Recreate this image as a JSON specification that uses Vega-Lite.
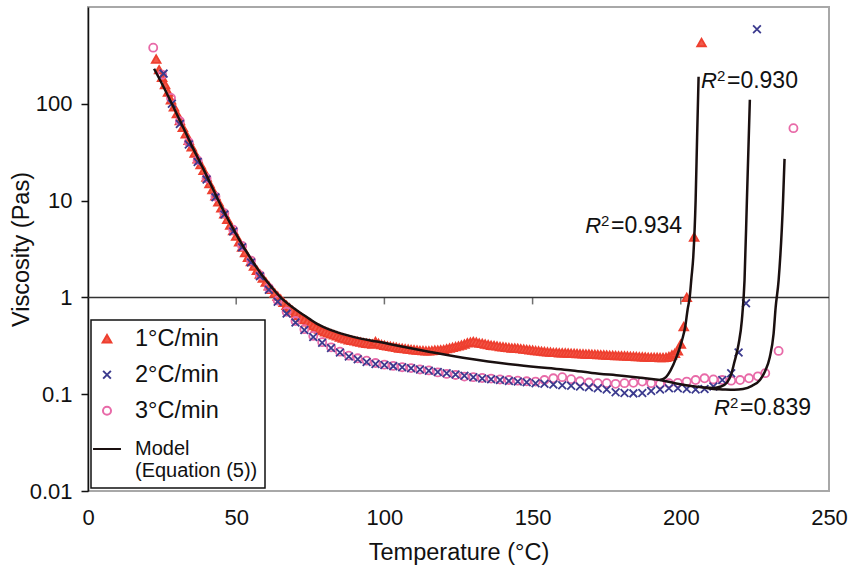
{
  "$schema": "https://vega.github.io/schema/vega-lite/v6.json",
  "width": 741,
  "height": 484,
  "autosize": {"type": "none"},
  "padding": {"left": 88, "top": 7, "right": 27, "bottom": 78},
  "background": "white",
  "config": {
    "font": "Liberation Sans",
    "view": {"stroke": "#a8a8a8", "strokeWidth": 2},
    "axis": {"grid": false, "labelFontSize": 22, "titleFontSize": 23.5, "titleFontWeight": "normal", "labelColor": "#111", "titleColor": "#111"},
    "legend": {"orient": "bottom-left", "offset": 3, "padding": 7, "strokeColor": "#111", "strokeWidth": 1.5, "fillColor": "white", "labelFontSize": 23.5, "labelOffset": 13, "symbolOffset": -6, "rowPadding": 11, "symbolStrokeWidth": 2, "labelLimit": 400, "labelColor": "#111"}
  },
  "datasets": {
    "pts": [
      {"s":"1°C/min","t":23,"v":290},{"s":"1°C/min","t":24,"v":225},{"s":"1°C/min","t":25,"v":188},{"s":"1°C/min","t":26,"v":158},{"s":"1°C/min","t":27,"v":132},{"s":"1°C/min","t":28,"v":110},{"s":"1°C/min","t":29,"v":93},{"s":"1°C/min","t":30,"v":79},{"s":"1°C/min","t":31,"v":67},{"s":"1°C/min","t":32,"v":57},{"s":"1°C/min","t":33,"v":49},{"s":"1°C/min","t":34,"v":42},{"s":"1°C/min","t":35,"v":36},{"s":"1°C/min","t":36,"v":31},{"s":"1°C/min","t":37,"v":27},{"s":"1°C/min","t":38,"v":23.5},{"s":"1°C/min","t":39,"v":20.5},{"s":"1°C/min","t":40,"v":17.5},{"s":"1°C/min","t":41,"v":15},{"s":"1°C/min","t":42,"v":13},{"s":"1°C/min","t":43,"v":11.2},{"s":"1°C/min","t":44,"v":9.7},{"s":"1°C/min","t":45,"v":8.4},{"s":"1°C/min","t":46,"v":7.3},{"s":"1°C/min","t":47,"v":6.4},{"s":"1°C/min","t":48,"v":5.6},{"s":"1°C/min","t":49,"v":4.9},{"s":"1°C/min","t":50,"v":4.3},{"s":"1°C/min","t":51,"v":3.75},{"s":"1°C/min","t":52,"v":3.3},{"s":"1°C/min","t":53,"v":2.9},{"s":"1°C/min","t":54,"v":2.6},{"s":"1°C/min","t":55,"v":2.35},{"s":"1°C/min","t":56,"v":2.1},{"s":"1°C/min","t":57,"v":1.9},{"s":"1°C/min","t":58,"v":1.74},{"s":"1°C/min","t":59,"v":1.58},{"s":"1°C/min","t":60,"v":1.44},{"s":"1°C/min","t":61,"v":1.32},{"s":"1°C/min","t":62,"v":1.21},{"s":"1°C/min","t":63,"v":1.11},{"s":"1°C/min","t":64,"v":1.03},{"s":"1°C/min","t":65,"v":0.96},{"s":"1°C/min","t":66,"v":0.89},{"s":"1°C/min","t":67,"v":0.83},{"s":"1°C/min","t":68,"v":0.78},{"s":"1°C/min","t":69,"v":0.73},{"s":"1°C/min","t":70,"v":0.69},{"s":"1°C/min","t":71,"v":0.65},{"s":"1°C/min","t":72,"v":0.62},{"s":"1°C/min","t":73,"v":0.59},{"s":"1°C/min","t":74,"v":0.56},{"s":"1°C/min","t":75,"v":0.535},{"s":"1°C/min","t":76,"v":0.51},{"s":"1°C/min","t":77,"v":0.49},{"s":"1°C/min","t":78,"v":0.47},{"s":"1°C/min","t":79,"v":0.455},{"s":"1°C/min","t":80,"v":0.44},{"s":"1°C/min","t":81,"v":0.43},{"s":"1°C/min","t":82,"v":0.42},{"s":"1°C/min","t":83,"v":0.41},{"s":"1°C/min","t":84,"v":0.4},{"s":"1°C/min","t":85,"v":0.39},{"s":"1°C/min","t":86,"v":0.38},{"s":"1°C/min","t":87,"v":0.372},{"s":"1°C/min","t":88,"v":0.365},{"s":"1°C/min","t":89,"v":0.36},{"s":"1°C/min","t":90,"v":0.355},{"s":"1°C/min","t":91,"v":0.35},{"s":"1°C/min","t":92,"v":0.345},{"s":"1°C/min","t":93,"v":0.34},{"s":"1°C/min","t":94,"v":0.336},{"s":"1°C/min","t":95,"v":0.333},{"s":"1°C/min","t":96,"v":0.33},{"s":"1°C/min","t":97,"v":0.35},{"s":"1°C/min","t":98,"v":0.335},{"s":"1°C/min","t":99,"v":0.325},{"s":"1°C/min","t":100,"v":0.32},{"s":"1°C/min","t":101,"v":0.315},{"s":"1°C/min","t":102,"v":0.312},{"s":"1°C/min","t":103,"v":0.308},{"s":"1°C/min","t":104,"v":0.305},{"s":"1°C/min","t":105,"v":0.3},{"s":"1°C/min","t":106,"v":0.298},{"s":"1°C/min","t":107,"v":0.295},{"s":"1°C/min","t":108,"v":0.292},{"s":"1°C/min","t":109,"v":0.29},{"s":"1°C/min","t":110,"v":0.288},{"s":"1°C/min","t":111,"v":0.285},{"s":"1°C/min","t":112,"v":0.283},{"s":"1°C/min","t":113,"v":0.282},{"s":"1°C/min","t":114,"v":0.28},{"s":"1°C/min","t":115,"v":0.28},{"s":"1°C/min","t":116,"v":0.282},{"s":"1°C/min","t":117,"v":0.285},{"s":"1°C/min","t":118,"v":0.285},{"s":"1°C/min","t":119,"v":0.288},{"s":"1°C/min","t":120,"v":0.29},{"s":"1°C/min","t":121,"v":0.295},{"s":"1°C/min","t":122,"v":0.3},{"s":"1°C/min","t":123,"v":0.305},{"s":"1°C/min","t":124,"v":0.31},{"s":"1°C/min","t":125,"v":0.315},{"s":"1°C/min","t":126,"v":0.322},{"s":"1°C/min","t":127,"v":0.33},{"s":"1°C/min","t":128,"v":0.34},{"s":"1°C/min","t":129,"v":0.345},{"s":"1°C/min","t":130,"v":0.35},{"s":"1°C/min","t":131,"v":0.345},{"s":"1°C/min","t":132,"v":0.338},{"s":"1°C/min","t":133,"v":0.335},{"s":"1°C/min","t":134,"v":0.33},{"s":"1°C/min","t":135,"v":0.325},{"s":"1°C/min","t":136,"v":0.32},{"s":"1°C/min","t":137,"v":0.318},{"s":"1°C/min","t":138,"v":0.315},{"s":"1°C/min","t":139,"v":0.31},{"s":"1°C/min","t":140,"v":0.308},{"s":"1°C/min","t":141,"v":0.305},{"s":"1°C/min","t":142,"v":0.303},{"s":"1°C/min","t":143,"v":0.3},{"s":"1°C/min","t":144,"v":0.3},{"s":"1°C/min","t":145,"v":0.298},{"s":"1°C/min","t":146,"v":0.295},{"s":"1°C/min","t":147,"v":0.292},{"s":"1°C/min","t":148,"v":0.29},{"s":"1°C/min","t":149,"v":0.288},{"s":"1°C/min","t":150,"v":0.285},{"s":"1°C/min","t":151,"v":0.282},{"s":"1°C/min","t":152,"v":0.28},{"s":"1°C/min","t":153,"v":0.278},{"s":"1°C/min","t":154,"v":0.276},{"s":"1°C/min","t":155,"v":0.274},{"s":"1°C/min","t":156,"v":0.272},{"s":"1°C/min","t":157,"v":0.27},{"s":"1°C/min","t":158,"v":0.27},{"s":"1°C/min","t":159,"v":0.268},{"s":"1°C/min","t":160,"v":0.268},{"s":"1°C/min","t":161,"v":0.267},{"s":"1°C/min","t":162,"v":0.266},{"s":"1°C/min","t":163,"v":0.265},{"s":"1°C/min","t":164,"v":0.264},{"s":"1°C/min","t":165,"v":0.263},{"s":"1°C/min","t":166,"v":0.262},{"s":"1°C/min","t":167,"v":0.261},{"s":"1°C/min","t":168,"v":0.26},{"s":"1°C/min","t":169,"v":0.26},{"s":"1°C/min","t":170,"v":0.259},{"s":"1°C/min","t":171,"v":0.258},{"s":"1°C/min","t":172,"v":0.257},{"s":"1°C/min","t":173,"v":0.256},{"s":"1°C/min","t":174,"v":0.255},{"s":"1°C/min","t":175,"v":0.254},{"s":"1°C/min","t":176,"v":0.253},{"s":"1°C/min","t":177,"v":0.252},{"s":"1°C/min","t":178,"v":0.251},{"s":"1°C/min","t":179,"v":0.25},{"s":"1°C/min","t":180,"v":0.25},{"s":"1°C/min","t":181,"v":0.249},{"s":"1°C/min","t":182,"v":0.248},{"s":"1°C/min","t":183,"v":0.247},{"s":"1°C/min","t":184,"v":0.246},{"s":"1°C/min","t":185,"v":0.245},{"s":"1°C/min","t":186,"v":0.244},{"s":"1°C/min","t":187,"v":0.243},{"s":"1°C/min","t":188,"v":0.242},{"s":"1°C/min","t":189,"v":0.241},{"s":"1°C/min","t":190,"v":0.24},{"s":"1°C/min","t":191,"v":0.24},{"s":"1°C/min","t":192,"v":0.24},{"s":"1°C/min","t":193,"v":0.239},{"s":"1°C/min","t":194,"v":0.239},{"s":"1°C/min","t":195,"v":0.24},{"s":"1°C/min","t":196,"v":0.245},{"s":"1°C/min","t":197,"v":0.255},{"s":"1°C/min","t":198,"v":0.265},{"s":"1°C/min","t":199,"v":0.28},{"s":"1°C/min","t":200,"v":0.33},{"s":"1°C/min","t":201,"v":0.5},{"s":"1°C/min","t":202,"v":1.0},{"s":"1°C/min","t":204.5,"v":4.2},{"s":"1°C/min","t":207,"v":430},
      {"s":"3°C/min","t":22,"v":380},{"s":"3°C/min","t":25,"v":200},{"s":"3°C/min","t":28,"v":115},{"s":"3°C/min","t":31,"v":66},{"s":"3°C/min","t":34,"v":40},{"s":"3°C/min","t":37,"v":26},{"s":"3°C/min","t":40,"v":17},{"s":"3°C/min","t":43,"v":11},{"s":"3°C/min","t":46,"v":7.4},{"s":"3°C/min","t":49,"v":5.0},{"s":"3°C/min","t":52,"v":3.4},{"s":"3°C/min","t":55,"v":2.4},{"s":"3°C/min","t":58,"v":1.7},{"s":"3°C/min","t":61,"v":1.25},{"s":"3°C/min","t":64,"v":0.93},{"s":"3°C/min","t":67,"v":0.71},{"s":"3°C/min","t":70,"v":0.57},{"s":"3°C/min","t":73,"v":0.47},{"s":"3°C/min","t":76,"v":0.4},{"s":"3°C/min","t":79,"v":0.345},{"s":"3°C/min","t":82,"v":0.305},{"s":"3°C/min","t":85,"v":0.275},{"s":"3°C/min","t":88,"v":0.25},{"s":"3°C/min","t":91,"v":0.235},{"s":"3°C/min","t":94,"v":0.222},{"s":"3°C/min","t":97,"v":0.21},{"s":"3°C/min","t":100,"v":0.202},{"s":"3°C/min","t":103,"v":0.196},{"s":"3°C/min","t":106,"v":0.19},{"s":"3°C/min","t":109,"v":0.186},{"s":"3°C/min","t":112,"v":0.18},{"s":"3°C/min","t":115,"v":0.176},{"s":"3°C/min","t":118,"v":0.168},{"s":"3°C/min","t":121,"v":0.162},{"s":"3°C/min","t":124,"v":0.158},{"s":"3°C/min","t":127,"v":0.152},{"s":"3°C/min","t":130,"v":0.15},{"s":"3°C/min","t":133,"v":0.147},{"s":"3°C/min","t":136,"v":0.145},{"s":"3°C/min","t":139,"v":0.142},{"s":"3°C/min","t":142,"v":0.14},{"s":"3°C/min","t":145,"v":0.138},{"s":"3°C/min","t":148,"v":0.136},{"s":"3°C/min","t":151,"v":0.135},{"s":"3°C/min","t":154,"v":0.14},{"s":"3°C/min","t":157,"v":0.146},{"s":"3°C/min","t":160,"v":0.15},{"s":"3°C/min","t":163,"v":0.143},{"s":"3°C/min","t":166,"v":0.136},{"s":"3°C/min","t":169,"v":0.132},{"s":"3°C/min","t":172,"v":0.13},{"s":"3°C/min","t":175,"v":0.13},{"s":"3°C/min","t":178,"v":0.128},{"s":"3°C/min","t":181,"v":0.13},{"s":"3°C/min","t":184,"v":0.131},{"s":"3°C/min","t":187,"v":0.135},{"s":"3°C/min","t":190,"v":0.13},{"s":"3°C/min","t":193,"v":0.128},{"s":"3°C/min","t":196,"v":0.13},{"s":"3°C/min","t":199,"v":0.131},{"s":"3°C/min","t":202,"v":0.135},{"s":"3°C/min","t":205,"v":0.14},{"s":"3°C/min","t":208,"v":0.146},{"s":"3°C/min","t":211,"v":0.142},{"s":"3°C/min","t":214,"v":0.14},{"s":"3°C/min","t":217,"v":0.138},{"s":"3°C/min","t":220,"v":0.14},{"s":"3°C/min","t":223,"v":0.146},{"s":"3°C/min","t":226,"v":0.153},{"s":"3°C/min","t":228.5,"v":0.165},{"s":"3°C/min","t":233,"v":0.28},{"s":"3°C/min","t":238,"v":56},
      {"s":"2°C/min","t":25.5,"v":205},{"s":"2°C/min","t":28.3,"v":100},{"s":"2°C/min","t":31,"v":62},{"s":"2°C/min","t":34,"v":38},{"s":"2°C/min","t":37,"v":25},{"s":"2°C/min","t":40,"v":16.5},{"s":"2°C/min","t":43,"v":10.8},{"s":"2°C/min","t":46,"v":7.2},{"s":"2°C/min","t":49,"v":4.8},{"s":"2°C/min","t":52,"v":3.3},{"s":"2°C/min","t":55,"v":2.3},{"s":"2°C/min","t":58,"v":1.65},{"s":"2°C/min","t":61,"v":1.2},{"s":"2°C/min","t":64,"v":0.9},{"s":"2°C/min","t":67,"v":0.68},{"s":"2°C/min","t":70,"v":0.55},{"s":"2°C/min","t":73,"v":0.46},{"s":"2°C/min","t":76,"v":0.39},{"s":"2°C/min","t":79,"v":0.34},{"s":"2°C/min","t":82,"v":0.3},{"s":"2°C/min","t":85,"v":0.27},{"s":"2°C/min","t":88,"v":0.245},{"s":"2°C/min","t":91,"v":0.23},{"s":"2°C/min","t":94,"v":0.215},{"s":"2°C/min","t":97,"v":0.205},{"s":"2°C/min","t":100,"v":0.2},{"s":"2°C/min","t":103,"v":0.195},{"s":"2°C/min","t":106,"v":0.19},{"s":"2°C/min","t":109,"v":0.185},{"s":"2°C/min","t":112,"v":0.18},{"s":"2°C/min","t":115,"v":0.175},{"s":"2°C/min","t":118,"v":0.17},{"s":"2°C/min","t":121,"v":0.165},{"s":"2°C/min","t":124,"v":0.16},{"s":"2°C/min","t":127,"v":0.155},{"s":"2°C/min","t":130,"v":0.15},{"s":"2°C/min","t":133,"v":0.145},{"s":"2°C/min","t":136,"v":0.143},{"s":"2°C/min","t":139,"v":0.14},{"s":"2°C/min","t":142,"v":0.137},{"s":"2°C/min","t":145,"v":0.135},{"s":"2°C/min","t":148,"v":0.133},{"s":"2°C/min","t":151,"v":0.13},{"s":"2°C/min","t":154,"v":0.128},{"s":"2°C/min","t":157,"v":0.126},{"s":"2°C/min","t":160,"v":0.124},{"s":"2°C/min","t":163,"v":0.122},{"s":"2°C/min","t":166,"v":0.12},{"s":"2°C/min","t":169,"v":0.118},{"s":"2°C/min","t":172,"v":0.115},{"s":"2°C/min","t":175,"v":0.112},{"s":"2°C/min","t":178,"v":0.105},{"s":"2°C/min","t":181,"v":0.103},{"s":"2°C/min","t":184,"v":0.102},{"s":"2°C/min","t":187,"v":0.103},{"s":"2°C/min","t":190,"v":0.108},{"s":"2°C/min","t":193,"v":0.112},{"s":"2°C/min","t":196,"v":0.115},{"s":"2°C/min","t":199,"v":0.115},{"s":"2°C/min","t":202,"v":0.113},{"s":"2°C/min","t":205,"v":0.112},{"s":"2°C/min","t":208,"v":0.113},{"s":"2°C/min","t":211,"v":0.12},{"s":"2°C/min","t":214,"v":0.14},{"s":"2°C/min","t":217,"v":0.165},{"s":"2°C/min","t":219.5,"v":0.27},{"s":"2°C/min","t":222,"v":0.87},{"s":"2°C/min","t":225.7,"v":590}
    ],
    "model": [
      {"s":"Model","c":"common","t":22.3,"v":230},{"s":"Model","c":"common","t":25,"v":160},{"s":"Model","c":"common","t":28.3,"v":100},{"s":"Model","c":"common","t":32,"v":58},{"s":"Model","c":"common","t":35,"v":37},{"s":"Model","c":"common","t":39,"v":21},{"s":"Model","c":"common","t":42,"v":13.5},{"s":"Model","c":"common","t":45,"v":8.7},{"s":"Model","c":"common","t":49,"v":5.1},{"s":"Model","c":"common","t":52,"v":3.5},{"s":"Model","c":"common","t":55,"v":2.5},{"s":"Model","c":"common","t":59,"v":1.65},{"s":"Model","c":"common","t":62,"v":1.27},{"s":"Model","c":"common","t":65,"v":1.0},{"s":"Model","c":"common","t":69,"v":0.79},{"s":"Model","c":"common","t":73,"v":0.65},{"s":"Model","c":"common","t":77,"v":0.54},{"s":"Model","c":"common","t":82,"v":0.46},{"s":"Model","c":"common","t":87,"v":0.41},{"s":"Model","c":"common","t":92,"v":0.375},{"s":"Model","c":"common","t":97.5,"v":0.35},{"s":"Model","c":"common","t":105,"v":0.315},{"s":"Model","c":"common","t":115,"v":0.275},{"s":"Model","c":"common","t":126.5,"v":0.238},{"s":"Model","c":"common","t":135,"v":0.218},{"s":"Model","c":"common","t":145,"v":0.2},{"s":"Model","c":"common","t":155,"v":0.186},{"s":"Model","c":"common","t":162.6,"v":0.177},{"s":"Model","c":"common","t":170,"v":0.166},{"s":"Model","c":"common","t":180,"v":0.155},{"s":"Model","c":"common","t":188,"v":0.146},{"s":"Model","c":"common","t":193,"v":0.14},
      {"s":"Model","c":"a","t":193,"v":0.14},{"s":"Model","c":"a","t":195,"v":0.15},{"s":"Model","c":"a","t":196.5,"v":0.175},{"s":"Model","c":"a","t":198.5,"v":0.24},{"s":"Model","c":"a","t":200.4,"v":0.36},{"s":"Model","c":"a","t":201.5,"v":0.5},{"s":"Model","c":"a","t":202.3,"v":0.75},{"s":"Model","c":"a","t":203,"v":1.0},{"s":"Model","c":"a","t":203.6,"v":1.6},{"s":"Model","c":"a","t":204.2,"v":2.6},{"s":"Model","c":"a","t":205,"v":10},{"s":"Model","c":"a","t":205.5,"v":45},{"s":"Model","c":"a","t":206,"v":190},
      {"s":"Model","c":"b","t":193,"v":0.14},{"s":"Model","c":"b","t":198,"v":0.13},{"s":"Model","c":"b","t":204,"v":0.121},{"s":"Model","c":"b","t":208,"v":0.117},{"s":"Model","c":"b","t":211,"v":0.116},{"s":"Model","c":"b","t":213.5,"v":0.12},{"s":"Model","c":"b","t":215.6,"v":0.132},{"s":"Model","c":"b","t":217,"v":0.16},{"s":"Model","c":"b","t":218,"v":0.21},{"s":"Model","c":"b","t":219.5,"v":0.33},{"s":"Model","c":"b","t":220.6,"v":0.58},{"s":"Model","c":"b","t":221.5,"v":1.5},{"s":"Model","c":"b","t":222.3,"v":10},{"s":"Model","c":"b","t":223.3,"v":110},
      {"s":"Model","c":"c","t":208,"v":0.117},{"s":"Model","c":"c","t":211,"v":0.113},{"s":"Model","c":"c","t":214,"v":0.112},{"s":"Model","c":"c","t":218,"v":0.111},{"s":"Model","c":"c","t":221,"v":0.113},{"s":"Model","c":"c","t":224,"v":0.122},{"s":"Model","c":"c","t":226.7,"v":0.14},{"s":"Model","c":"c","t":228.5,"v":0.175},{"s":"Model","c":"c","t":230,"v":0.24},{"s":"Model","c":"c","t":231.3,"v":0.42},{"s":"Model","c":"c","t":232,"v":0.79},{"s":"Model","c":"c","t":233,"v":1.5},{"s":"Model","c":"c","t":234.5,"v":10},{"s":"Model","c":"c","t":235,"v":27}
    ],
    "notes": [
      {"t":212.2,"v":173,"r":"R","sup":"2","rest":"=0.930"},
      {"t":173.1,"v":5.52,"r":"R","sup":"2","rest":"=0.934"},
      {"t":216.6,"v":0.0718,"r":"R","sup":"2","rest":"=0.839"}
    ]
  },
  "encoding": {
    "x": {"field": "t", "type": "quantitative", "scale": {"domain": [0, 250], "nice": false, "zero": false},
      "axis": {"title": "Temperature (°C)", "values": [0, 50, 100, 150, 200, 250], "domain": false, "ticks": false, "tickSize": 0, "labelPadding": 16, "titlePadding": 12, "labelFlush": false}},
    "y": {"field": "v", "type": "quantitative", "scale": {"type": "log", "domain": [0.01, 1000], "nice": false},
      "axis": {"title": "Viscosity (Pas)", "values": [0.01, 0.1, 1, 10, 100], "format": "~g", "domainColor": "#111", "domainWidth": 1.5, "tickColor": "#111", "tickWidth": 1.5, "tickSize": 7, "labelPadding": 9, "titlePadding": -4}}
  },
  "layer": [
    {
      "data": {"values": [{"t": 0, "t2": 250, "v": 1}]},
      "mark": {"type": "rule", "color": "#333", "strokeWidth": 1.5},
      "encoding": {"x2": {"field": "t2"}}
    },
    {
      "data": {"values": [{"t": 50, "v": 1}, {"t": 100, "v": 1}, {"t": 150, "v": 1}, {"t": 200, "v": 1}]},
      "mark": {"type": "tick", "orient": "vertical", "color": "#333", "size": 7, "thickness": 1.5, "yOffset": 3.5}
    },
    {
      "data": {"name": "pts"},
      "mark": {"type": "point", "strokeWidth": 1.8, "opacity": 1},
      "encoding": {
        "shape": {"field": "s", "type": "nominal", "scale": {"domain": ["1°C/min", "2°C/min", "3°C/min", "Model"], "range": ["triangle-up", "M-1,-1L1,1M1,-1L-1,1", "circle", "stroke"]}, "legend": {"title": null, "labelExpr": "datum.label == 'Model' ? ['Model', '(Equation (5))'] : datum.label", "labelFontSize": {"expr": "datum.value == 'Model' ? 20 : 23.5"}}},
        "fill": {"field": "s", "type": "nominal", "scale": {"domain": ["1°C/min", "2°C/min", "3°C/min", "Model"], "range": ["#f25a4a", "transparent", "transparent", "transparent"]}, "legend": {"title": null, "labelExpr": "datum.label == 'Model' ? ['Model', '(Equation (5))'] : datum.label", "labelFontSize": {"expr": "datum.value == 'Model' ? 20 : 23.5"}}},
        "stroke": {"field": "s", "type": "nominal", "scale": {"domain": ["1°C/min", "2°C/min", "3°C/min", "Model"], "range": ["#ee3f2f", "#3b3a8e", "#e86aa8", "#1a1010"]}, "legend": {"title": null, "labelExpr": "datum.label == 'Model' ? ['Model', '(Equation (5))'] : datum.label", "labelFontSize": {"expr": "datum.value == 'Model' ? 20 : 23.5"}}},
        "size": {"field": "s", "type": "nominal", "scale": {"type": "ordinal", "domain": ["1°C/min", "2°C/min", "3°C/min", "Model"], "range": [75, 60, 65, 780]}, "legend": {"title": null, "labelExpr": "datum.label == 'Model' ? ['Model', '(Equation (5))'] : datum.label", "labelFontSize": {"expr": "datum.value == 'Model' ? 20 : 23.5"}}}
      }
    },
    {
      "data": {"name": "model"},
      "mark": {"type": "line", "strokeWidth": 2.5, "interpolate": "monotone"},
      "encoding": {
        "stroke": {"field": "s", "type": "nominal", "legend": {"title": null, "labelExpr": "datum.label == 'Model' ? ['Model', '(Equation (5))'] : datum.label", "labelFontSize": {"expr": "datum.value == 'Model' ? 20 : 23.5"}}},
        "detail": {"field": "c", "type": "nominal"},
        "order": {"field": "t", "type": "quantitative"}
      }
    },
    {
      "data": {"name": "notes"},
      "mark": {"type": "text", "align": "right", "baseline": "middle", "fontStyle": "italic", "fontSize": 22, "color": "#111"},
      "encoding": {"text": {"field": "r"}}
    },
    {
      "data": {"name": "notes"},
      "mark": {"type": "text", "align": "left", "baseline": "alphabetic", "fontSize": 15, "dx": 0, "dy": 0, "color": "#111"},
      "encoding": {"text": {"field": "sup"}}
    },
    {
      "data": {"name": "notes"},
      "mark": {"type": "text", "align": "left", "baseline": "middle", "fontSize": 23, "dx": 10, "color": "#111"},
      "encoding": {"text": {"field": "rest"}}
    }
  ]
}
